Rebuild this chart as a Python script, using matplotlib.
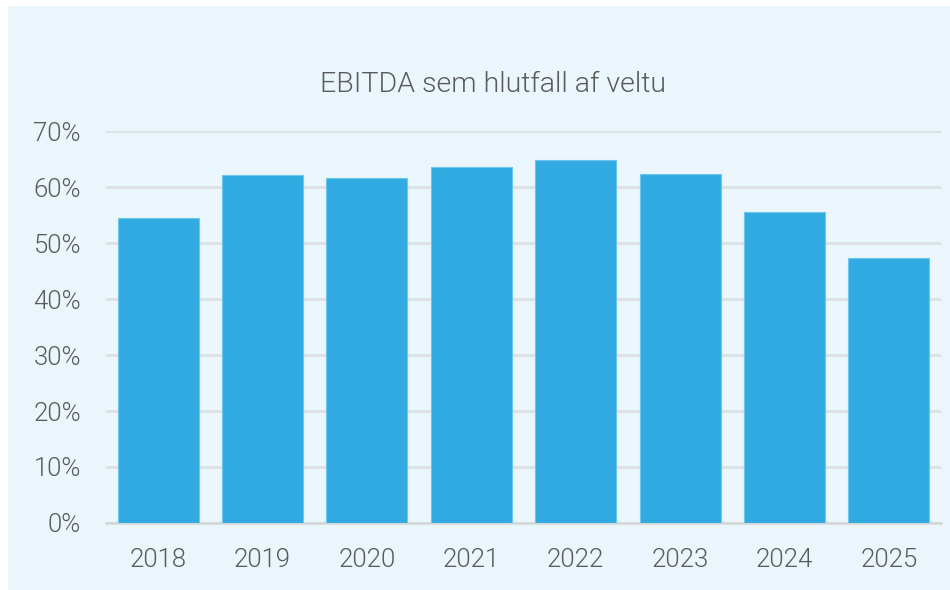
import matplotlib
matplotlib.use("Agg")
import matplotlib.pyplot as plt
from matplotlib.patches import Rectangle

years = ["2018", "2019", "2020", "2021", "2022", "2023", "2024", "2025"]
ebitda_pct = [54.5, 62.1, 61.6, 63.6, 64.8, 62.3, 55.5, 47.4]
y_ticks = [0, 10, 20, 30, 40, 50, 60, 70]
y_tick_labels = [f"{v}%" for v in y_ticks]
title = "EBITDA sem hlutfall af veltu"

plt.rcParams['font.family'] = ['Roboto', 'DejaVu Sans']

W, H = 950, 590
fig = plt.figure(figsize=(W / 100, H / 100), dpi=100)
fig.patch.set_facecolor("white")
bg = Rectangle((8 / W, 0), 1 - 8 / W, 1 - 6 / H, transform=fig.transFigure,
               facecolor="#EAF6FC", edgecolor="none", zorder=-10)
fig.patches.append(bg)

ax = fig.add_axes([106 / W, 1 - 523 / H, (941 - 106) / W, (523 - 131) / H])
ax.set_facecolor("none")

x = list(range(len(years)))
ax.bar(x, ebitda_pct, width=0.775, color="#31AAE1", edgecolor="#6CC6EE",
       linewidth=0.8, zorder=3)

ax.set_xlim(-0.5, len(years) - 0.5)
ax.set_ylim(0, 70)
ax.set_yticks(y_ticks)
ax.set_yticklabels(y_tick_labels)
ax.set_xticks(x)
ax.set_xticklabels(years)

ax.grid(axis="y", color="#DCDFE1", linewidth=1.8, zorder=0)
ax.set_axisbelow(True)
for s in ["top", "right", "left"]:
    ax.spines[s].set_visible(False)
ax.spines["bottom"].set_color("#D4D7D9")
ax.spines["bottom"].set_linewidth(1.8)

ax.tick_params(axis="both", length=0, labelsize=18.5, labelcolor="#5A5A5A")
ax.tick_params(axis="y", pad=18)
ax.tick_params(axis="x", pad=18)
for lbl in ax.get_xticklabels() + ax.get_yticklabels():
    lbl.set_fontweight(300)

fig.text(493 / W, 1 - 84 / H, title, ha="center", va="center",
         fontsize=20.5, color="#5A5A5A", fontweight=300)

fig.savefig("out.png", dpi=100, facecolor=fig.get_facecolor())
